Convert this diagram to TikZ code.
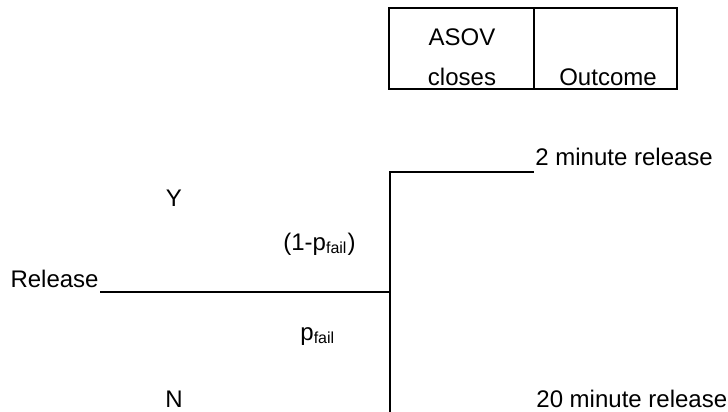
\documentclass[tikz,border=0pt]{standalone}
\usepackage{fontspec}
\setmainfont{Liberation Sans}
\newcommand{\pfail}{p\textsubscript{fail}}
\begin{document}
\begin{tikzpicture}[x=0.5pt,y=-0.5pt,
  lbl/.style={inner sep=0pt,font=\fontsize{12}{14}\selectfont},
  branch/.style={line width=1pt},
  cellbox/.style={draw,line width=1pt}]
\useasboundingbox (0,0) rectangle (728,412);
% header table
\draw[cellbox] (389,8) rectangle (534,89);
\draw[cellbox] (534,8) rectangle (677,89);
\node[lbl,anchor=base] (asov) at (462,45) {ASOV};
\node[lbl,anchor=base] (closes) at (462,85) {closes};
\node[lbl,anchor=base] (outc) at (608,85) {Outcome};
% tree
\node[lbl,anchor=base east] (rel) at (99,287) {Release};
\coordinate (start) at (100,292);
\coordinate (split) at (390,292);
\coordinate (top) at (390,172);
\coordinate (bot) at (390,412);
\coordinate (topend) at (534,172);
\draw[branch] (start) -- (split);
\draw[branch] (bot) -- (top) -- (topend);
\node[lbl,anchor=base west] (two) at (535,165) {2 minute release};
\node[lbl,anchor=base west] (twenty) at (536,407) {20 minute release};
\node[lbl,anchor=base] (y) at (174,206) {Y};
\node[lbl,anchor=base] (n) at (174,407) {N};
\node[lbl,anchor=base west] (q) at (283,250) {(1-\pfail)};
\node[lbl,anchor=base west] (p) at (300,340) {\pfail};
\end{tikzpicture}
\end{document}
